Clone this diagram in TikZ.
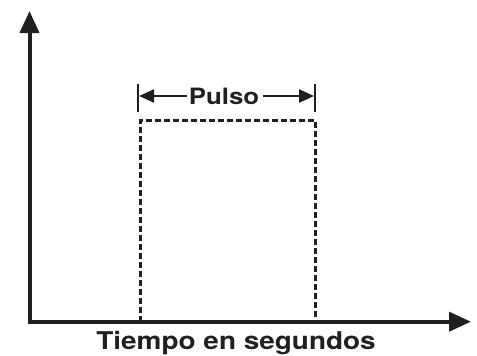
\documentclass[tikz,border=0pt]{standalone}
\usepackage{fontspec}
\setmainfont{TeX Gyre Heros}
\usetikzlibrary{arrows.meta}
\usetikzlibrary{positioning}
\definecolor{ink}{RGB}{35,31,32}

\begin{document}
\begin{tikzpicture}[x=1pt,y=-1pt,
  axis/.style={ink,line width=4pt,line join=miter},
  pulse/.style={ink,line width=3pt,dash pattern=on 6pt off 3pt},
  span/.style={ink,line width=2.3pt,-{Triangle[length=15pt,width=13pt]}},
  tickmark/.style={ink,line width=1.6pt},
  lbl/.style={text=ink,inner sep=0pt,anchor=base}]
\useasboundingbox (0,0) rectangle (477,356);

% axes
\coordinate (O) at (29.5,321.7);
\coordinate (ytip) at (29.5,11);
\coordinate (xtip) at (471,321.7);
\draw[axis,{Triangle[length=22pt,width=19pt]}-{Triangle[length=22pt,width=19pt]}] (ytip) -- (O) -- (xtip);
\node[lbl,font=\fontsize{24.5}{26}\selectfont\bfseries] (T) at (236,349) {\scalebox{1.14}[1]{Tiempo en segundos}};

% pulse
\draw[pulse] (140.7,321.7) -- (140.7,120) -- (315,120) -- (315,321.7);

% pulse width
\coordinate (tL) at (138,96);
\coordinate (tR) at (315,96);
\draw[tickmark] (138,84) -- (138,112);
\draw[tickmark] (315,84) -- (315,112);
\node[lbl,font=\fontsize{22.5}{24}\selectfont\bfseries] (P) at (224,104) {\scalebox{1.15}[1]{Pulso}};
\draw[span] ([xshift=-2pt]P.west |- tL) -- ([xshift=1pt]tL);
\draw[span] ([xshift=4pt]P.east |- tR) -- ([xshift=-1pt]tR);

\end{tikzpicture}
\end{document}
